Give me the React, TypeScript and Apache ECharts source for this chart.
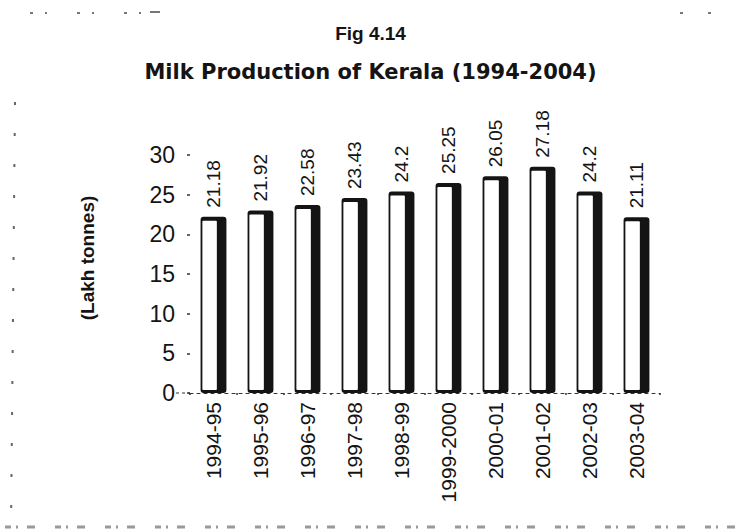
import React, { useEffect, useRef } from "react";
import * as echarts from "echarts";

const categories = [
  "1994-95",
  "1995-96",
  "1996-97",
  "1997-98",
  "1998-99",
  "1999-2000",
  "2000-01",
  "2001-02",
  "2002-03",
  "2003-04",
];
const production = [21.18, 21.92, 22.58, 23.43, 24.2, 25.25, 26.05, 27.18, 24.2, 21.11];
const yTicks = [0, 5, 10, 15, 20, 25, 30];

const FONT = "'Liberation Sans', Arial, sans-serif";
const INK = "#141414";

export default function App() {
  const ref = useRef<HTMLDivElement>(null);

  useEffect(() => {
    if (!ref.current) return;
    const chart = echarts.init(ref.current, undefined, { renderer: "svg" });
    const option: any = {
      animation: false,
      backgroundColor: "#ffffff",
      title: [
        {
          text: "Fig 4.14",
          left: "center",
          top: 19,
          textStyle: { fontFamily: FONT, fontWeight: "bold", fontSize: 19, color: INK },
        },
        {
          text: "Milk Production of Kerala (1994-2004)",
          left: "center",
          top: 56,
          textStyle: { fontFamily: "'DejaVu Sans', sans-serif", fontWeight: "bold", fontSize: 21, color: INK },
        },
      ],
      grid: { left: 190, right: 81, top: 155, bottom: 139, containLabel: false },
      xAxis: {
        type: "category",
        data: categories,
        axisLine: { show: true, lineStyle: { color: "#333", width: 1, type: [3, 4] } },
        axisTick: { show: true, length: 2, lineStyle: { color: "#333", width: 1.5 } },
        axisLabel: {
          rotate: 90,
          margin: 9,
          fontFamily: FONT,
          fontSize: 21,
          color: INK,
          interval: 0,
        },
      },
      yAxis: [
        {
          type: "value",
          min: yTicks[0],
          max: yTicks[yTicks.length - 1],
          interval: 5,
          axisLine: { show: false },
          axisTick: { show: true, length: 3, lineStyle: { color: "#333", width: 1.5 } },
          axisLabel: { margin: 15, fontFamily: FONT, fontSize: 23, color: INK },
          splitLine: { show: false },
        },
        {
          type: "value",
          min: 0,
          max: 28.6,
          show: false,
        },
      ],
      series: [
        {
          type: "custom",
          yAxisIndex: 1,
          data: production.map((v, i) => [i, v]),
          encode: { x: 0, y: 1 },
          renderItem: (params: any, api: any) => {
            const idx = api.value(0);
            const v = api.value(1);
            const top = api.coord([idx, v]);
            const base = api.coord([idx, 0]);
            const cx = top[0];
            const w = api.size([1, 0])[0] * 0.55;
            const h = base[1] - top[1];
            const left = cx - w / 2;
            return {
              type: "group",
              children: [
                {
                  type: "rect",
                  shape: { x: left, y: top[1], width: w, height: h, r: 3 },
                  style: { fill: INK },
                },
                {
                  type: "rect",
                  shape: { x: left + 1.8, y: top[1] + 4, width: w * 0.56, height: h - 7, r: 1 },
                  style: { fill: "#ffffff" },
                },
              ],
            };
          },
          z: 2,
        },
        {
          type: "bar",
          yAxisIndex: 1,
          data: production,
          barWidth: 26,
          itemStyle: { color: "rgba(0,0,0,0)" },
          label: {
            show: true,
            position: "top",
            rotate: 90,
            align: "left",
            verticalAlign: "middle",
            distance: 9,
            fontFamily: FONT,
            fontSize: 19,
            color: INK,
            formatter: (p: any) => String(p.value),
          },
          z: 3,
        },
      ],
      graphic: [
        {
          type: "text",
          x: 87,
          y: 258,
          rotation: Math.PI / 2,
          style: {
            text: "(Lakh tonnes)",
            align: "center",
            verticalAlign: "middle",
            fontFamily: FONT,
            fontWeight: "bold",
            fontSize: 19,
            fill: INK,
          },
        },
        {
          type: "polyline",
          shape: { points: [[176, 393], [190, 393]] },
          style: { stroke: "#333", lineWidth: 1, lineDash: [3, 3] },
          silent: true,
        },
        {
          type: "polyline",
          shape: { points: [[30, 13], [150, 13]] },
          style: { stroke: "#777", lineWidth: 2, lineDash: [3, 12, 2, 30] },
          silent: true,
        },
        {
          type: "polyline",
          shape: { points: [[150, 12], [160, 12]] },
          style: { stroke: "#777", lineWidth: 2 },
          silent: true,
        },
        {
          type: "polyline",
          shape: { points: [[680, 13], [735, 13]] },
          style: { stroke: "#777", lineWidth: 2, lineDash: [3, 25] },
          silent: true,
        },
        {
          type: "polyline",
          shape: { points: [[15, 102], [11, 528]] },
          style: { stroke: "#666", lineWidth: 2, lineDash: [3, 28] },
          silent: true,
        },
        {
          type: "polyline",
          shape: { points: [[5, 527], [741, 527]] },
          style: { stroke: "#999", lineWidth: 3, lineDash: [6, 5, 2, 9, 8, 20] },
          silent: true,
        },
      ],
    };
    chart.setOption(option);
    return () => chart.dispose();
  }, []);

  return (
    <div
      ref={ref}
      style={{ position: "fixed", left: 0, top: 0, width: 741, height: 532, background: "#fff" }}
    />
  );
}
